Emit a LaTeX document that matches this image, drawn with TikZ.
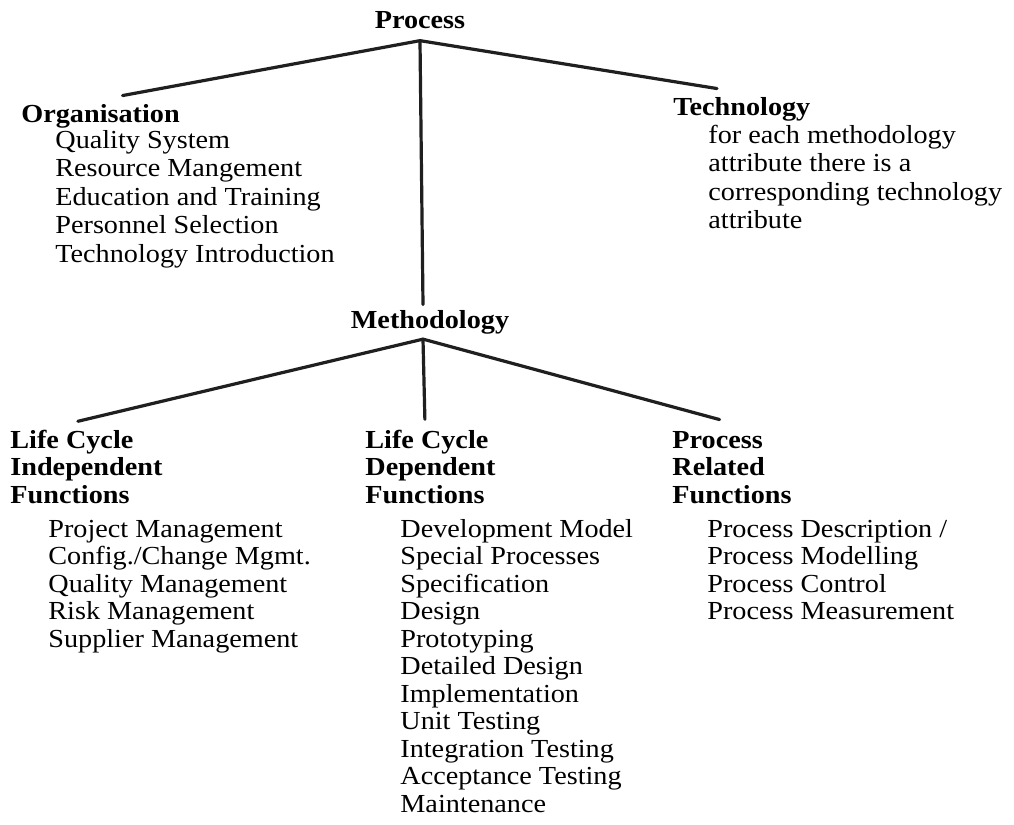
\documentclass[tikz,border=0pt]{standalone}
\usepackage{fontspec}
\setmainfont[FakeStretch=1.085]{Liberation Serif}
\usetikzlibrary{positioning}
\tikzset{
  heading/.style={font=\fontsize{13}{14}\selectfont\bfseries, anchor=base west, inner sep=0pt},
  entry/.style={font=\fontsize{13}{14}\selectfont, anchor=base west, inner sep=0pt},
  branch/.style={line width=1.6pt, draw=black!88, line cap=round}
}
\begin{document}
\begin{tikzpicture}[x=0.5pt,y=-0.5pt]
\path[use as bounding box, fill=white] (0,0) rectangle (1014,825);

% top level
\node[heading, anchor=base, inner ysep=6pt] (process) at (420,28) {Process};
\node[heading] (organisation) at (21,122) {Organisation};
\foreach \t [count=\i from 0] in {Quality System,Resource Mangement,Education and Training,Personnel Selection,Technology Introduction}
  \node[entry] (org\i) at (55,148+28.5*\i) {\t};
\node[heading] (technology) at (673,115) {Technology};
\foreach \t [count=\i from 0] in {for each methodology,attribute there is a,corresponding technology,attribute}
  \node[entry] (tech\i) at (708,143+28.5*\i) {\t};
\node[heading, anchor=base] (methodology) at (430,328) {Methodology};

% methodology branches
\foreach \t [count=\i from 0] in {Life Cycle,Independent,Functions}
  \node[heading] (indep\i) at (10,448+27.5*\i) {\t};
\foreach \t [count=\i from 0] in {Project Management,Config./Change Mgmt.,Quality Management,Risk Management,Supplier Management}
  \node[entry] (indepitem\i) at (48,537+27.5*\i) {\t};
\foreach \t [count=\i from 0] in {Life Cycle,Dependent,Functions}
  \node[heading] (dep\i) at (365,448+27.5*\i) {\t};
\foreach \t [count=\i from 0] in {Development Model,Special Processes,Specification,Design,Prototyping,Detailed Design,Implementation,Unit Testing,Integration Testing,Acceptance Testing,Maintenance}
  \node[entry] (depitem\i) at (400,537+27.5*\i) {\t};
\foreach \t [count=\i from 0] in {Process,Related,Functions}
  \node[heading] (rel\i) at (672,448+27.5*\i) {\t};
\foreach \t [count=\i from 0] in {Process Description /,Process Modelling,Process Control,Process Measurement}
  \node[entry] (relitem\i) at (707,537+27.5*\i) {\t};

% tree lines
\draw[branch] (process.south) -- ([shift={(22,-8)}]organisation.north);
\draw[branch] (process.south) -- ([shift={(44,-8)}]technology.north west);
\draw[branch] (process.south) -- ([shift={(-7,-5)}]methodology.north);
\draw[branch] ([shift={(-7,5)}]methodology.south) -- ([shift={(6,-8)}]indep0.north);
\draw[branch] ([shift={(-7,5)}]methodology.south) -- ([shift={(-2,-10)}]dep0.north);
\draw[branch] ([shift={(-7,5)}]methodology.south) -- ([shift={(2,-11)}]rel0.north);
\end{tikzpicture}
\end{document}
